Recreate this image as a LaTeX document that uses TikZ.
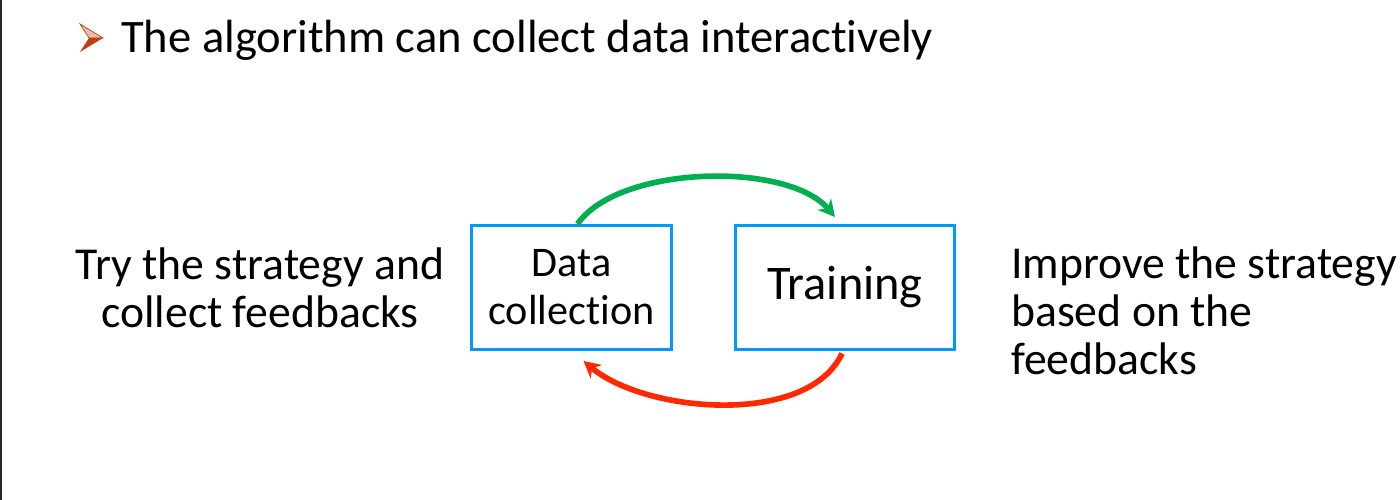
\documentclass[tikz,border=0pt]{standalone}
\usepackage{fontspec}
\setmainfont{Carlito}[Ligatures=NoCommon]
\usetikzlibrary{arrows.meta}
\definecolor{boxblue}{RGB}{0,153,255}
\definecolor{loopgreen}{RGB}{0,176,80}
\definecolor{loopred}{RGB}{255,40,0}
\definecolor{bulletbrown}{RGB}{192,64,20}
\tikzset{
	stagebox/.style={draw=boxblue, line width=1.7pt, rectangle, minimum height=2.48cm, align=center},
	sidetext/.style={font=\fontsize{26}{27.2}\selectfont},
	looparrow/.style={->, >={Stealth[length=9.5pt, width=10pt]}, line width=3.2pt}
}
\begin{document}
\begin{tikzpicture}
				\useasboundingbox (0,0) rectangle (28,10);
				\fill[white] (0,0) rectangle (28,10);
				\draw[black!85, line width=1.2pt] (0.02,0) -- (0.02,10);
				% bullet
				\fill[bulletbrown!35] (1.6,9.52) -- (2.06,9.24) -- (1.78,9.24) -- cycle;
				\draw[bulletbrown, line width=0.4pt] (1.6,9.52) -- (2.06,9.24) -- (1.78,9.24) -- cycle;
				\fill[bulletbrown] (1.6,8.96) -- (2.06,9.24) -- (1.78,9.24) -- cycle;
				\node[font=\fontsize{26.5}{28}\selectfont, anchor=west] (title)at(2.3, 9.2) {The algorithm can collect data interactively};
				% the two stages
				\node[stagebox, minimum width=4.0cm, font=\fontsize{24}{27.2}\selectfont] (DC)at(11.43, 4.25) {Data\\collection};
				\node[stagebox, minimum width=4.38cm, font=\fontsize{27.5}{30}\selectfont] (TR)at(16.9, 4.25) {Training};
				\node[sidetext, align=center] (try)at(5.2, 4.24) {Try the strategy and\\collect feedbacks};
				\node[sidetext, align=left, anchor=west] (improve)at(20.1, 3.78) {Improve the strategy\\based on the\\feedbacks};
				% loop
				\draw[looparrow, loopgreen] ([xshift=0.12cm]DC.north) to[out=55, in=130, looseness=0.72] ([xshift=-0.2cm, yshift=0.14cm]TR.north);
				\draw[looparrow, loopred] ([xshift=-0.06cm, yshift=-0.05cm]TR.south) to[out=-115, in=-40, looseness=0.8] ([xshift=0.24cm, yshift=-0.2cm]DC.south);
			\end{tikzpicture}
\end{document}
